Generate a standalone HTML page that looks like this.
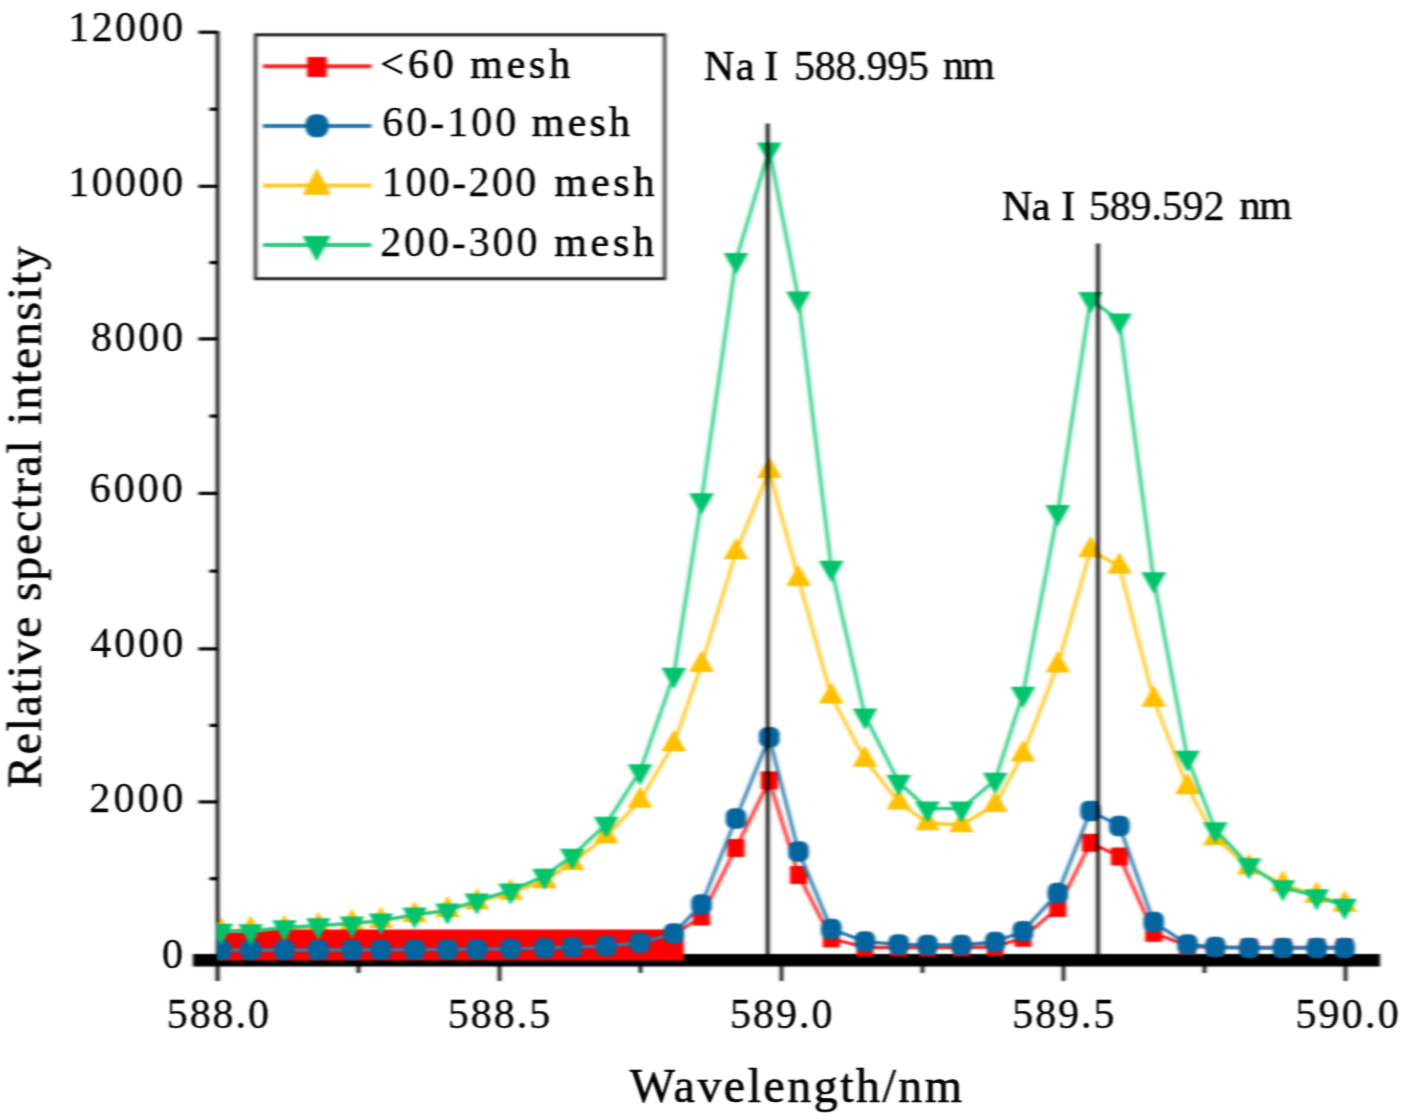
<!DOCTYPE html>
<html><head><meta charset="utf-8"><style>
html,body{margin:0;padding:0;background:#fff;}
body{width:1408px;height:1120px;overflow:hidden;}
svg{display:block;}
#w{width:1408px;height:1120px;}
</style></head><body>
<div id="w"><svg width="1408" height="1120" viewBox="0 0 1408 1120">
<defs><filter id="bl" x="0" y="0" width="1408" height="1120" filterUnits="userSpaceOnUse" color-interpolation-filters="sRGB">
<feConvolveMatrix order="11 1" kernelMatrix="0.0031 0.0147 0.0495 0.1176 0.1976 0.2349 0.1976 0.1176 0.0495 0.0147 0.0031" divisor="1" edgeMode="duplicate" result="a"/>
<feConvolveMatrix in="a" order="1 5" kernelMatrix="0.0152 0.2188 0.5321 0.2188 0.0152" divisor="1" edgeMode="duplicate"/>
</filter>
<filter id="bt" x="0" y="0" width="1408" height="1120" filterUnits="userSpaceOnUse" color-interpolation-filters="sRGB">
<feConvolveMatrix order="7 1" kernelMatrix="0.0044 0.0540 0.2420 0.3991 0.2420 0.0540 0.0044" divisor="1" edgeMode="none" result="a"/>
<feConvolveMatrix in="a" order="1 3" kernelMatrix="0.1065 0.7870 0.1065" divisor="1" edgeMode="none"/>
</filter></defs>
<g filter="url(#bl)">
<rect width="1408" height="1120" fill="#fff"/>
<rect x="193" y="954" width="1187" height="12.5" fill="#000"/>
<line x1="217.6" y1="31" x2="217.6" y2="981" stroke="#000" stroke-width="3.4"/>
<line x1="198.5" y1="32.2" x2="217.5" y2="32.2" stroke="#000" stroke-width="3.2"/>
<line x1="198.5" y1="186.3" x2="217.5" y2="186.3" stroke="#000" stroke-width="3.2"/>
<line x1="198.5" y1="338.9" x2="217.5" y2="338.9" stroke="#000" stroke-width="3.2"/>
<line x1="198.5" y1="493.4" x2="217.5" y2="493.4" stroke="#000" stroke-width="3.2"/>
<line x1="198.5" y1="648.9" x2="217.5" y2="648.9" stroke="#000" stroke-width="3.2"/>
<line x1="198.5" y1="801.9" x2="217.5" y2="801.9" stroke="#000" stroke-width="3.2"/>
<line x1="209.5" y1="109.2" x2="217.5" y2="109.2" stroke="#000" stroke-width="3.2"/>
<line x1="209.5" y1="262.6" x2="217.5" y2="262.6" stroke="#000" stroke-width="3.2"/>
<line x1="209.5" y1="416.1" x2="217.5" y2="416.1" stroke="#000" stroke-width="3.2"/>
<line x1="209.5" y1="571.1" x2="217.5" y2="571.1" stroke="#000" stroke-width="3.2"/>
<line x1="209.5" y1="725.4" x2="217.5" y2="725.4" stroke="#000" stroke-width="3.2"/>
<line x1="209.5" y1="878.7" x2="217.5" y2="878.7" stroke="#000" stroke-width="3.2"/>
<line x1="217.5" y1="960" x2="217.5" y2="981" stroke="#000" stroke-width="3.2"/>
<line x1="499.5" y1="960" x2="499.5" y2="981" stroke="#000" stroke-width="3.2"/>
<line x1="781.5" y1="960" x2="781.5" y2="981" stroke="#000" stroke-width="3.2"/>
<line x1="1063.5" y1="960" x2="1063.5" y2="981" stroke="#000" stroke-width="3.2"/>
<line x1="1345.5" y1="960" x2="1345.5" y2="981" stroke="#000" stroke-width="3.2"/>
<line x1="358.5" y1="960" x2="358.5" y2="973" stroke="#000" stroke-width="3.2"/>
<line x1="640.5" y1="960" x2="640.5" y2="973" stroke="#000" stroke-width="3.2"/>
<line x1="922.5" y1="960" x2="922.5" y2="973" stroke="#000" stroke-width="3.2"/>
<line x1="1204.5" y1="960" x2="1204.5" y2="973" stroke="#000" stroke-width="3.2"/>
<defs><clipPath id="pc"><rect x="217" y="0" width="1191" height="1120"/></clipPath></defs>
<g clip-path="url(#pc)">
<polyline points="221.0,931.7 250.7,929.6 284.5,928.6 318.3,926.1 352.0,922.6 381.0,920.9 414.7,915.0 447.5,910.0 476.9,902.0 510.7,892.6 544.5,881.0 572.3,862.9 606.2,836.3 640.0,800.5 673.8,744.0 701.5,664.7 736.0,552.0 769.3,470.7 798.5,578.8 831.3,696.3 865.0,759.5 898.7,802.3 927.5,823.0 961.4,825.0 995.2,804.8 1023.0,754.2 1057.8,665.2 1090.6,550.0 1119.4,566.5 1153.7,699.5 1187.5,787.0 1215.3,838.0 1249.1,867.3 1282.9,884.2 1316.7,895.5 1344.6,904.6" fill="none" stroke="#ffc926" stroke-width="3.3" stroke-linejoin="round"/>
<path d="M208.8,938.9L221.0,917.4L233.2,938.9ZM238.4,936.8L250.7,915.3L262.9,936.8ZM272.2,935.8L284.5,914.3L296.8,935.8ZM306.1,933.3L318.3,911.8L330.6,933.3ZM339.8,929.8L352.0,908.3L364.2,929.8ZM368.8,928.1L381.0,906.6L393.2,928.1ZM402.4,922.2L414.7,900.7L426.9,922.2ZM435.2,917.2L447.5,895.7L459.8,917.2ZM464.6,909.2L476.9,887.7L489.1,909.2ZM498.4,899.8L510.7,878.3L523.0,899.8ZM532.2,888.2L544.5,866.7L556.8,888.2ZM560.0,870.1L572.3,848.6L584.5,870.1ZM594.0,843.5L606.2,822.0L618.5,843.5ZM627.8,807.7L640.0,786.2L652.2,807.7ZM661.5,751.2L673.8,729.7L686.0,751.2ZM689.2,671.9L701.5,650.4L713.8,671.9ZM723.8,559.2L736.0,537.7L748.2,559.2ZM757.0,477.9L769.3,456.4L781.5,477.9ZM786.2,586.0L798.5,564.5L810.8,586.0ZM819.0,703.5L831.3,682.0L843.5,703.5ZM852.8,766.7L865.0,745.2L877.2,766.7ZM886.5,809.5L898.7,788.0L911.0,809.5ZM915.2,830.2L927.5,808.7L939.8,830.2ZM949.1,832.2L961.4,810.7L973.6,832.2ZM983.0,812.0L995.2,790.5L1007.5,812.0ZM1010.8,761.4L1023.0,739.9L1035.2,761.4ZM1045.5,672.4L1057.8,650.9L1070.0,672.4ZM1078.3,557.2L1090.6,535.7L1102.8,557.2ZM1107.2,573.7L1119.4,552.2L1131.7,573.7ZM1141.5,706.7L1153.7,685.2L1166.0,706.7ZM1175.2,794.2L1187.5,772.7L1199.8,794.2ZM1203.0,845.2L1215.3,823.7L1227.5,845.2ZM1236.8,874.5L1249.1,853.0L1261.3,874.5ZM1270.7,891.4L1282.9,869.9L1295.2,891.4ZM1304.5,902.7L1316.7,881.2L1329.0,902.7ZM1332.3,911.8L1344.6,890.3L1356.8,911.8Z" fill="#ffc000"/>
<rect x="217" y="929.5" width="466.8" height="31" fill="#ff0000"/>
<polyline points="673.8,935.0 701.5,916.5 736.0,848.0 769.3,780.4 798.5,875.0 831.3,938.5 865.0,947.5 898.7,947.5 927.5,947.5 961.4,947.5 995.2,947.0 1023.0,937.8 1057.8,908.0 1090.6,842.8 1119.4,856.5 1153.7,932.8 1187.5,946.0 1215.3,947.5 1249.1,947.5 1282.9,947.5 1316.7,947.5 1344.6,947.5" fill="none" stroke="#ff2626" stroke-width="3.3" stroke-linejoin="round"/>
<g fill="#ff0000"><rect x="693.0" y="907.5" width="17" height="18"/><rect x="727.5" y="839.0" width="17" height="18"/><rect x="760.8" y="771.4" width="17" height="18"/><rect x="790.0" y="866.0" width="17" height="18"/><rect x="822.8" y="929.5" width="17" height="18"/><rect x="856.5" y="938.5" width="17" height="18"/><rect x="890.2" y="938.5" width="17" height="18"/><rect x="919.0" y="938.5" width="17" height="18"/><rect x="952.9" y="938.5" width="17" height="18"/><rect x="986.7" y="938.0" width="17" height="18"/><rect x="1014.5" y="928.8" width="17" height="18"/><rect x="1049.3" y="899.0" width="17" height="18"/><rect x="1082.1" y="833.8" width="17" height="18"/><rect x="1110.9" y="847.5" width="17" height="18"/><rect x="1145.2" y="923.8" width="17" height="18"/><rect x="1179.0" y="937.0" width="17" height="18"/><rect x="1206.8" y="938.5" width="17" height="18"/><rect x="1240.6" y="938.5" width="17" height="18"/><rect x="1274.4" y="938.5" width="17" height="18"/><rect x="1308.2" y="938.5" width="17" height="18"/><rect x="1336.1" y="938.5" width="17" height="18"/></g>
<polyline points="221.0,950.0 250.7,950.0 284.5,950.0 318.3,950.0 352.0,950.0 381.0,949.8 414.7,949.6 447.5,949.4 476.9,949.2 510.7,948.8 544.5,948.2 572.3,947.2 606.2,946.1 640.0,942.7 673.8,933.5 701.5,904.5 736.0,818.5 769.3,737.3 798.5,851.5 831.3,929.0 865.0,941.6 898.7,944.4 927.5,945.0 961.4,945.0 995.2,942.0 1023.0,931.2 1057.8,893.1 1090.6,810.9 1119.4,826.0 1153.7,922.1 1187.5,944.5 1215.3,947.0 1249.1,948.0 1282.9,948.0 1316.7,948.0 1344.6,948.0" fill="none" stroke="#297bad" stroke-width="3.3" stroke-linejoin="round"/>
<g fill="#03649e"><rect x="210.75" y="939.75" width="20.5" height="20.5" rx="7.5"/><rect x="240.45" y="939.75" width="20.5" height="20.5" rx="7.5"/><rect x="274.25" y="939.75" width="20.5" height="20.5" rx="7.5"/><rect x="308.05" y="939.75" width="20.5" height="20.5" rx="7.5"/><rect x="341.75" y="939.75" width="20.5" height="20.5" rx="7.5"/><rect x="370.75" y="939.55" width="20.5" height="20.5" rx="7.5"/><rect x="404.45" y="939.35" width="20.5" height="20.5" rx="7.5"/><rect x="437.25" y="939.15" width="20.5" height="20.5" rx="7.5"/><rect x="466.65" y="938.95" width="20.5" height="20.5" rx="7.5"/><rect x="500.45" y="938.55" width="20.5" height="20.5" rx="7.5"/><rect x="534.25" y="937.95" width="20.5" height="20.5" rx="7.5"/><rect x="562.05" y="936.95" width="20.5" height="20.5" rx="7.5"/><rect x="595.95" y="935.85" width="20.5" height="20.5" rx="7.5"/><rect x="629.75" y="932.45" width="20.5" height="20.5" rx="7.5"/><rect x="663.55" y="923.25" width="20.5" height="20.5" rx="7.5"/><rect x="691.25" y="894.25" width="20.5" height="20.5" rx="7.5"/><rect x="725.75" y="808.25" width="20.5" height="20.5" rx="7.5"/><rect x="759.05" y="727.05" width="20.5" height="20.5" rx="7.5"/><rect x="788.25" y="841.25" width="20.5" height="20.5" rx="7.5"/><rect x="821.05" y="918.75" width="20.5" height="20.5" rx="7.5"/><rect x="854.75" y="931.35" width="20.5" height="20.5" rx="7.5"/><rect x="888.45" y="934.15" width="20.5" height="20.5" rx="7.5"/><rect x="917.25" y="934.75" width="20.5" height="20.5" rx="7.5"/><rect x="951.15" y="934.75" width="20.5" height="20.5" rx="7.5"/><rect x="984.95" y="931.75" width="20.5" height="20.5" rx="7.5"/><rect x="1012.75" y="920.95" width="20.5" height="20.5" rx="7.5"/><rect x="1047.55" y="882.85" width="20.5" height="20.5" rx="7.5"/><rect x="1080.35" y="800.65" width="20.5" height="20.5" rx="7.5"/><rect x="1109.15" y="815.75" width="20.5" height="20.5" rx="7.5"/><rect x="1143.45" y="911.85" width="20.5" height="20.5" rx="7.5"/><rect x="1177.25" y="934.25" width="20.5" height="20.5" rx="7.5"/><rect x="1205.05" y="936.75" width="20.5" height="20.5" rx="7.5"/><rect x="1238.85" y="937.75" width="20.5" height="20.5" rx="7.5"/><rect x="1272.65" y="937.75" width="20.5" height="20.5" rx="7.5"/><rect x="1306.45" y="937.75" width="20.5" height="20.5" rx="7.5"/><rect x="1334.35" y="937.75" width="20.5" height="20.5" rx="7.5"/></g>
<polyline points="221.0,931.0 250.7,931.5 284.5,927.5 318.3,925.5 352.0,923.6 381.0,920.6 414.7,914.6 447.5,910.6 476.9,900.7 510.7,890.7 544.5,876.0 572.3,855.9 606.2,824.0 640.0,771.4 673.8,675.0 701.5,500.5 736.0,260.3 769.3,149.6 798.5,298.7 831.3,568.0 865.0,715.8 898.7,782.0 927.5,808.7 961.4,808.7 995.2,780.0 1023.0,694.0 1057.8,512.3 1090.6,299.2 1119.4,320.7 1153.7,579.4 1187.5,758.0 1215.3,829.5 1249.1,865.5 1282.9,887.4 1316.7,896.4 1344.6,906.0" fill="none" stroke="#26cc81" stroke-width="3.3" stroke-linejoin="round"/>
<path d="M208.8,923.8L233.2,923.8L221.0,945.3ZM238.4,924.3L262.9,924.3L250.7,945.8ZM272.2,920.3L296.8,920.3L284.5,941.8ZM306.1,918.3L330.6,918.3L318.3,939.8ZM339.8,916.4L364.2,916.4L352.0,937.9ZM368.8,913.4L393.2,913.4L381.0,934.9ZM402.4,907.4L426.9,907.4L414.7,928.9ZM435.2,903.4L459.8,903.4L447.5,924.9ZM464.6,893.5L489.1,893.5L476.9,915.0ZM498.4,883.5L523.0,883.5L510.7,905.0ZM532.2,868.8L556.8,868.8L544.5,890.3ZM560.0,848.7L584.5,848.7L572.3,870.2ZM594.0,816.8L618.5,816.8L606.2,838.3ZM627.8,764.2L652.2,764.2L640.0,785.7ZM661.5,667.8L686.0,667.8L673.8,689.3ZM689.2,493.3L713.8,493.3L701.5,514.8ZM723.8,253.1L748.2,253.1L736.0,274.6ZM757.0,142.4L781.5,142.4L769.3,163.9ZM786.2,291.5L810.8,291.5L798.5,313.0ZM819.0,560.8L843.5,560.8L831.3,582.3ZM852.8,708.6L877.2,708.6L865.0,730.1ZM886.5,774.8L911.0,774.8L898.7,796.3ZM915.2,801.5L939.8,801.5L927.5,823.0ZM949.1,801.5L973.6,801.5L961.4,823.0ZM983.0,772.8L1007.5,772.8L995.2,794.3ZM1010.8,686.8L1035.2,686.8L1023.0,708.3ZM1045.5,505.1L1070.0,505.1L1057.8,526.6ZM1078.3,292.0L1102.8,292.0L1090.6,313.5ZM1107.2,313.5L1131.7,313.5L1119.4,335.0ZM1141.5,572.2L1166.0,572.2L1153.7,593.7ZM1175.2,750.8L1199.8,750.8L1187.5,772.3ZM1203.0,822.3L1227.5,822.3L1215.3,843.8ZM1236.8,858.3L1261.3,858.3L1249.1,879.8ZM1270.7,880.2L1295.2,880.2L1282.9,901.7ZM1304.5,889.2L1329.0,889.2L1316.7,910.7ZM1332.3,898.8L1356.8,898.8L1344.6,920.3Z" fill="#00c36b"/>
</g>
<line x1="767.7" y1="123.6" x2="767.7" y2="958" stroke="#000" stroke-width="3.4"/>
<line x1="1098" y1="243.4" x2="1098" y2="958" stroke="#000" stroke-width="3.4"/>
<rect x="255.5" y="34.8" width="409.2" height="243.9" fill="none" stroke="#222" stroke-width="3"/>
<line x1="263" y1="66.3" x2="371.5" y2="66.3" stroke="#ff2626" stroke-width="4"/>
<line x1="263" y1="126" x2="371.5" y2="126" stroke="#297bad" stroke-width="4"/>
<line x1="263" y1="185.5" x2="371.5" y2="185.5" stroke="#ffc926" stroke-width="4"/>
<line x1="263" y1="245" x2="371.5" y2="245" stroke="#26cc81" stroke-width="4"/>
<rect x="307.15" y="57" width="19.5" height="20" fill="#ff0000"/>
<rect x="305.5" y="114.3" width="23" height="23" rx="9.5" fill="#03649e"/>
<path d="M302.8,194.8L316.8,168.3L330.8,194.8Z" fill="#ffc000"/>
<path d="M302.6,236.1L330.6,236.1L316.6,261.6Z" fill="#00c36b"/>
</g>
<g filter="url(#bt)">
<g font-family="&quot;Liberation Serif&quot;, serif" fill="#000" stroke="#000" stroke-width="0.6">
<text x="68.20" y="41.00" font-size="42" letter-spacing="2.450" stroke-width="0.3">12000</text>
<text x="68.20" y="195.50" font-size="42" letter-spacing="2.450" stroke-width="0.3">10000</text>
<text x="90.90" y="350.80" font-size="42" letter-spacing="2.667" stroke-width="0.3">8000</text>
<text x="89.70" y="502.40" font-size="42" letter-spacing="3.000" stroke-width="0.3">6000</text>
<text x="90.20" y="657.40" font-size="42" letter-spacing="3.000" stroke-width="0.3">4000</text>
<text x="89.20" y="812.40" font-size="42" letter-spacing="3.333" stroke-width="0.3">2000</text>
<text x="162.00" y="968.30" font-size="42" letter-spacing="2.000" stroke-width="0.3">0</text>
<text x="166.70" y="1028.40" font-size="42" letter-spacing="1.950" stroke-width="0.3">588.0</text>
<text x="447.70" y="1028.40" font-size="42" letter-spacing="2.000" stroke-width="0.3">588.5</text>
<text x="730.10" y="1028.40" font-size="42" letter-spacing="2.000" stroke-width="0.3">589.0</text>
<text x="1012.20" y="1028.40" font-size="42" letter-spacing="1.950" stroke-width="0.3">589.5</text>
<text x="1295.40" y="1028.40" font-size="42" letter-spacing="2.200" stroke-width="0.3">590.0</text>
<text x="629.70" y="1101.70" font-size="48" letter-spacing="2.467" stroke-width="0.6">Wavelength/nm</text>
<text transform="translate(40.70,788.10) rotate(-90)" font-size="48" letter-spacing="1.669" stroke-width="0.6">Relative spectral intensity</text>
<text x="704.00" y="80.00" font-size="42" letter-spacing="1.400" stroke-width="0.6">Na</text>
<text x="764.20" y="80.00" font-size="42" letter-spacing="0.000" stroke-width="0.6">I</text>
<text x="794.00" y="80.00" font-size="42" letter-spacing="-0.267" stroke-width="0.3">588.995</text>
<text x="942.90" y="79.00" font-size="42" letter-spacing="-1.800" stroke-width="0.6">nm</text>
<text x="1002.00" y="219.60" font-size="42" letter-spacing="-0.600" stroke-width="0.6">Na</text>
<text x="1061.20" y="219.60" font-size="42" letter-spacing="0.000" stroke-width="0.6">I</text>
<text x="1088.90" y="219.60" font-size="42" letter-spacing="-0.167" stroke-width="0.3">589.592</text>
<text x="1239.40" y="218.60" font-size="42" letter-spacing="-1.200" stroke-width="0.6">nm</text>
<text x="380.30" y="78.30" font-size="42" letter-spacing="3.900" stroke-width="0.6">&lt;60</text>
<text x="470.30" y="78.30" font-size="42" letter-spacing="3.733" stroke-width="0.6">mesh</text>
<text x="382.20" y="135.60" font-size="42" letter-spacing="3.000" stroke-width="0.3">60-100</text>
<text x="531.80" y="135.60" font-size="42" letter-spacing="3.200" stroke-width="0.6">mesh</text>
<text x="382.10" y="196.30" font-size="42" letter-spacing="2.367" stroke-width="0.3">100-200</text>
<text x="554.60" y="196.30" font-size="42" letter-spacing="3.733" stroke-width="0.6">mesh</text>
<text x="380.20" y="256.20" font-size="42" letter-spacing="2.867" stroke-width="0.3">200-300</text>
<text x="554.20" y="256.20" font-size="42" letter-spacing="3.733" stroke-width="0.6">mesh</text>
</g>
</g>
</svg></div>
</body></html>
